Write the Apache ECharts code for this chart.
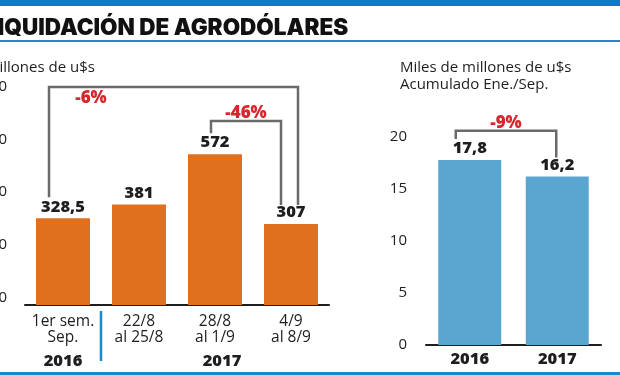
<!DOCTYPE html>
<html>
<head>
<meta charset="utf-8">
<script src="https://cdn.jsdelivr.net/npm/echarts@6/dist/echarts.min.js"></script>
<style>
  html, body { margin: 0; padding: 0; background: #fff; }
  #main { width: 620px; height: 375px; }
</style>
</head>
<body>
<div id="main"></div>
<script>
// semanal (millones de u$s)
var weekCats = ['1er sem.\nSep.', '22/8\nal 25/8', '28/8\nal 1/9', '4/9\nal 8/9'];
var weekYears = ['2016', '', '2017', ''];
var weekValues = [328.5, 381, 572, 307];
// acumulado (miles de millones de u$s)
var yearCats = ['2016', '2017'];
var yearValues = [17.8, 16.2];
// comparaciones: desde, hasta, altura del corchete
var weekBrackets = [[0, 3, 827], [2, 3, 698]];
var weekPct = ['-6%', '-46%'];
var yearBrackets = [[0, 1, 20.6]];
var yearPct = ['-9%'];

var FONT = 'Open Sans';
var DARK = '#1e1e1e';
var RED = '#d8262e';
var GREY = '#6a6a6a';

function comma(v) { return String(v).replace('.', ','); }

// desplazamientos del dibujo de cada corchete (px): izq, der, posicion etiqueta
var weekShape = [
  { dl: -14, dr: 7, inside: true },
  { dl: -4, dr: -10, inside: false }
];
var yearShape = [{ dl: -14, dr: -1, inside: false }];

function bracketRender(values, shape, pct) {
  return function (params, api) {
    var i = params.dataIndex;
    var s = shape[i];
    var a = api.value(0), b = api.value(1);
    var l = api.coord([a, values[a]]);
    var r = api.coord([b, values[b]]);
    var top = api.coord([a, api.value(2)])[1];
    var lx = l[0] + s.dl, rx = r[0] + s.dr;
    var ly = l[1] - 21, ry = r[1] - 19;
    var children = [{
      type: 'polyline',
      shape: { points: [[lx, ly], [lx, top], [rx, top], [rx, ry]] },
      style: { stroke: GREY, lineWidth: 2.5, fill: null }
    }];
    children.push({
      type: 'text',
      style: {
        text: pct[i],
        x: s.inside ? lx + 42 : (lx + rx) / 2,
        y: s.inside ? top + 11 : top - 8,
        align: 'center', verticalAlign: 'middle',
        font: '800 17px "' + FONT + '"', fill: RED
      }
    });
    return { type: 'group', children: children };
  };
}

var chart = echarts.init(document.getElementById('main'));

var option = {
  animation: false,
  textStyle: { fontFamily: FONT },
  grid: [
    { left: 25, right: 291, top: 94, bottom: 70, outerBoundsMode: 'none', containLabel: false },
    { left: 426, right: 19, top: 137, bottom: 30, outerBoundsMode: 'none', containLabel: false }
  ],
  xAxis: [
    {
      gridIndex: 0, type: 'category', data: weekCats,
      axisLine: { lineStyle: { color: DARK, width: 2 } },
      axisTick: { show: false },
      axisLabel: {
        margin: 9, interval: 0,
        formatter: function (v, idx) {
          var lines = v.split('\n').map(function (t) { return '{c|' + t + '}'; });
          var y = weekYears[idx];
          return lines.join('\n') + '\n' + (y ? '{' + (idx === 2 ? 'y2' : 'y') + '|' + y + '}' : '{y| }');
        },
        rich: {
          c: { fontSize: 15.5, lineHeight: 16, color: DARK, fontFamily: FONT },
          y: { fontSize: 16.5, lineHeight: 24, fontWeight: 800, color: DARK, fontFamily: FONT, verticalAlign: 'bottom' },
          y2: { fontSize: 16.5, lineHeight: 24, fontWeight: 800, color: DARK, fontFamily: FONT, padding: [0, 0, 0, 14], verticalAlign: 'bottom' }
        }
      }
    },
    {
      gridIndex: 1, type: 'category', data: yearCats,
      axisLine: { lineStyle: { color: DARK, width: 2 } },
      axisTick: { show: false },
      axisLabel: { margin: 6, fontSize: 16.5, fontWeight: 800, color: DARK }
    }
  ],
  yAxis: [
    {
      gridIndex: 0, type: 'value', min: 0, max: 800, interval: 200,
      axisLine: { show: false }, axisTick: { show: false }, splitLine: { show: false },
      axisLabel: { margin: 18, fontSize: 15, color: DARK, verticalAlign: 'bottom' }
    },
    {
      gridIndex: 1, type: 'value', min: 0, max: 20, interval: 5,
      axisLine: { show: false }, axisTick: { show: false }, splitLine: { show: false },
      axisLabel: { margin: 19, fontSize: 15, color: DARK }
    }
  ],
  series: [
    {
      type: 'bar', xAxisIndex: 0, yAxisIndex: 0, data: weekValues,
      barWidth: 54, itemStyle: { color: '#e0701d' },
      label: {
        show: true, position: 'top', distance: 3,
        fontSize: 16.5, fontWeight: 800, color: DARK,
        formatter: function (p) { return comma(p.value); }
      }
    },
    {
      type: 'bar', xAxisIndex: 1, yAxisIndex: 1, data: yearValues,
      barWidth: 63, itemStyle: { color: '#5aa6d0' },
      label: {
        show: true, position: 'top', distance: 3,
        fontSize: 16.5, fontWeight: 800, color: DARK,
        formatter: function (p) { return comma(p.value); }
      }
    },
    {
      type: 'custom', xAxisIndex: 0, yAxisIndex: 0, clip: false, z: 5,
      data: weekBrackets,
      renderItem: bracketRender(weekValues, weekShape, weekPct)
    },
    {
      type: 'custom', xAxisIndex: 1, yAxisIndex: 1, clip: false, z: 5,
      data: yearBrackets,
      renderItem: bracketRender(yearValues, yearShape, yearPct)
    }
  ],
  graphic: [
    { type: 'rect', shape: { x: 0, y: 0, width: 620, height: 6 }, style: { fill: '#0b7cc0' } },
    {
      type: 'text', left: -15, top: 17,
      style: { text: 'LIQUIDACIÓN DE AGRODÓLARES', font: '900 22.5px Inter', fill: '#111' }
    },
    { type: 'rect', shape: { x: 0, y: 40, width: 620, height: 2 }, style: { fill: '#2b86c6' } },
    {
      type: 'text', left: -14, top: 60,
      style: { text: 'Millones de u$s', font: '15px "' + FONT + '"', fill: DARK }
    },
    {
      type: 'text', left: 400, top: 59,
      style: { text: 'Miles de millones de u$s\nAcumulado Ene./Sep.', font: '15px "' + FONT + '"', lineHeight: 17, fill: DARK }
    },
    { type: 'rect', shape: { x: 0, y: 372, width: 620, height: 3 }, style: { fill: '#1a8ac8' } }
  ]
};

chart.setOption(option);

// separador azul entre 2016 y 2017
var p0 = chart.convertToPixel({ xAxisIndex: 0 }, weekCats[0]);
var p1 = chart.convertToPixel({ xAxisIndex: 0 }, weekCats[1]);
var base = chart.convertToPixel({ yAxisIndex: 0 }, 0);
var sepX = Math.round((p0 + p1) / 2);
chart.setOption({
  graphic: option.graphic.concat([{
    type: 'line',
    shape: { x1: sepX, y1: base + 6, x2: sepX, y2: base + 56 },
    style: { stroke: '#1a8ac8', lineWidth: 2.5 }
  }])
});
</script>
</body>
</html>
